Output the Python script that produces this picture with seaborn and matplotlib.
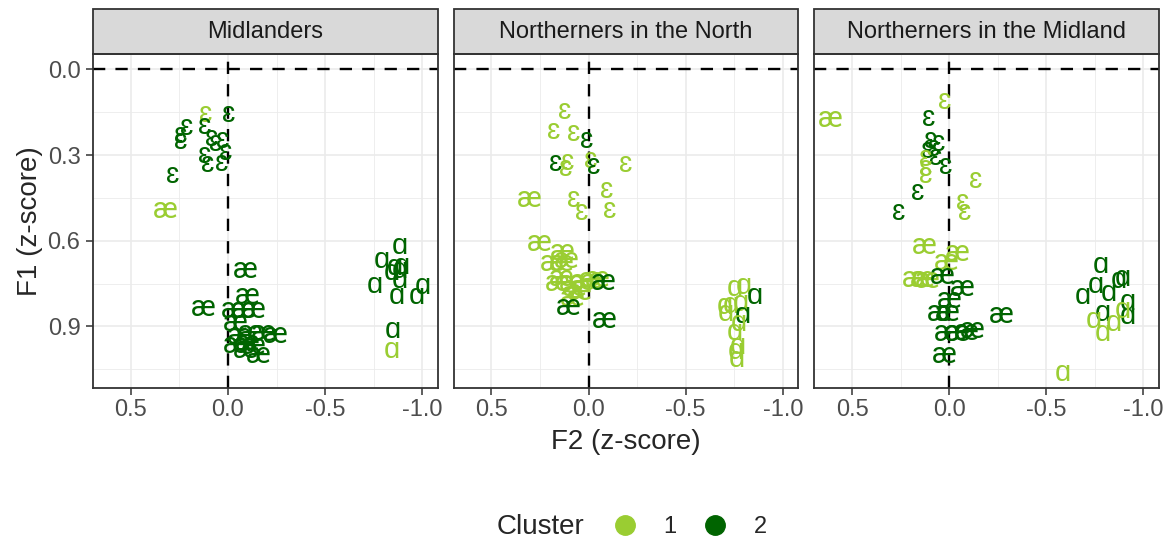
import matplotlib
matplotlib.use("Agg")
import matplotlib.pyplot as plt
from matplotlib.lines import Line2D
from matplotlib.patches import Rectangle
import pandas as pd
import seaborn as sns

# ---- data ---------------------------------------------------------------
groups = ["Midlanders", "Northerners in the North", "Northerners in the Midland"]
clusters = [1, 2]

mid_vowel = ["ɛ"] * 14 + ["æ"] * 17 + ["ɑ"] * 13
mid_cluster = [1, 2, 2, 2, 2, 2, 2, 2, 2, 2, 2, 2, 2, 2,
               1, 2, 2, 2, 2, 2, 2, 2, 2, 2, 2, 2, 2, 2, 2, 2, 2,
               2, 2, 2, 2, 2, 2, 2, 2, 2, 2, 2, 2, 1]
mid_f2 = [0.115, 0.118, -0.005, 0.214, 0.245, 0.245, 0.086, 0.063, 0.029, 0.012, 0.120, 0.103, 0.034, 0.287,
          0.321, -0.086, -0.100, 0.129, -0.026, -0.077, -0.129, -0.035, -0.112, -0.180, -0.241, -0.035, -0.086,
          -0.155, -0.129, -0.060, -0.100,
          -0.885, -0.791, -0.860, -0.885, -0.895, -0.844, -0.885, -0.756, -1.004, -0.868, -0.971, -0.851, -0.842]
mid_f1 = [0.157, 0.199, 0.157, 0.202, 0.230, 0.253, 0.242, 0.257, 0.248, 0.289, 0.300, 0.332, 0.329, 0.370,
          0.495, 0.703, 0.796, 0.837, 0.845, 0.843, 0.843, 0.889, 0.924, 0.924, 0.930, 0.965, 0.983,
          1.000, 0.971, 0.934, 0.958,
          0.621, 0.668, 0.692, 0.703, 0.689, 0.710, 0.738, 0.755, 0.761, 0.796, 0.796, 0.913, 0.983]

nn_vowel = ["ɛ"] * 14 + ["æ"] * 18 + ["ɑ"] * 13
nn_cluster = [1, 1, 1, 2, 2, 1, 1, 1, 2, 1, 1, 1, 1, 1,
              1, 1, 1, 1, 1, 1, 1, 1, 1, 1, 1, 1, 1, 2, 1, 1, 2, 2,
              1, 1, 2, 1, 1, 1, 2, 1, 1, 1, 1, 1, 1]
nn_f2 = [0.122, 0.180, 0.077, 0.009, 0.169, 0.108, 0.117, -0.012, -0.026, -0.192, -0.094, -0.111, 0.077, 0.036,
         0.306, 0.255, 0.134, 0.117, 0.186, 0.143, 0.143, 0.160, 0.091, 0.074, 0.031, -0.012, -0.046, -0.077,
         0.048, 0.082, 0.105, -0.080,
         -0.751, -0.799, -0.854, -0.699, -0.734, -0.785, -0.794, -0.708, -0.776, -0.751, -0.768, -0.759, -0.764]
nn_f1 = [0.145, 0.215, 0.224, 0.248, 0.329, 0.327, 0.347, 0.320, 0.338, 0.332, 0.423, 0.493, 0.455, 0.499,
         0.455, 0.609, 0.639, 0.668, 0.679, 0.678, 0.732, 0.749, 0.749, 0.767, 0.744, 0.738, 0.735, 0.747,
         0.779, 0.802, 0.833, 0.878,
         0.767, 0.761, 0.796, 0.829, 0.825, 0.819, 0.860, 0.854, 0.889, 0.919, 0.971, 0.989, 1.015]

nm_vowel = ["æ"] + ["ɛ"] * 16 + ["æ"] * 17 + ["ɑ"] * 14
nm_cluster = [1,
              1, 2, 2, 2, 2, 2, 2, 1, 1, 1, 2, 1, 2, 2, 1, 1,
              1, 1, 1, 1, 1, 1, 2, 2, 2, 2, 2, 2, 2, 2, 2, 2, 2,
              1, 2, 2, 2, 2, 2, 2, 2, 2, 2, 1, 1, 1, 1]
nm_f2 = [0.611,
         0.023, 0.104, 0.095, 0.053, 0.078, 0.112, 0.070, 0.121, 0.121, 0.121, 0.018, -0.137, 0.161, 0.259,
         -0.068, -0.080,
         0.130, -0.042, 0.018, 0.181, 0.138, 0.112, 0.035, -0.068, 0.001, 0.053, 0.009, -0.265, 0.018, -0.042,
         -0.085, -0.120, 0.027,
         -0.584, -0.781, -0.893, -0.874, -0.755, -0.824, -0.687, -0.919, -0.790, -0.919, -0.893, -0.746,
         -0.849, -0.790]
nm_f1 = [0.175,
         0.111, 0.172, 0.248, 0.259, 0.276, 0.283, 0.306, 0.312, 0.347, 0.370, 0.339, 0.388, 0.432, 0.499,
         0.464, 0.499,
         0.621, 0.644, 0.674, 0.735, 0.735, 0.740, 0.726, 0.767, 0.808, 0.854, 0.854, 0.860, 0.924, 0.924,
         0.919, 0.913, 1.000,
         1.064, 0.685, 0.732, 0.738, 0.755, 0.784, 0.796, 0.814, 0.854, 0.866, 0.843, 0.878, 0.889, 0.924]

x_ticks = [0.5, 0.0, -0.5, -1.0]
x_tick_labels = ["0.5", "0.0", "-0.5", "-1.0"]
y_ticks = [0.0, 0.3, 0.6, 0.9]
y_tick_labels = ["0.0", "0.3", "0.6", "0.9"]

# ---- assemble long table ------------------------------------------------
frames = []
for name, v, c, f2, f1 in [
    (groups[0], mid_vowel, mid_cluster, mid_f2, mid_f1),
    (groups[1], nn_vowel, nn_cluster, nn_f2, nn_f1),
    (groups[2], nm_vowel, nm_cluster, nm_f2, nm_f1),
]:
    frames.append(pd.DataFrame({"group": name, "vowel": v, "cluster": c, "F2": f2, "F1": f1}))
df = pd.concat(frames, ignore_index=True)

# ---- style --------------------------------------------------------------
sns.set_theme(style="white")
plt.rcParams["font.family"] = ["Liberation Sans", "DejaVu Sans"]
plt.rcParams["axes.unicode_minus"] = False

palette = dict(zip(clusters, ["#9ACD32", "#006400"]))
border = "#333333"
grid_col = "#EBEBEB"
label_size = 21
label_fonts = ["Roboto", "Liberation Sans", "DejaVu Sans"]
x_height = 0.53 * label_size  # ink centre of lowercase glyphs


def draw_vowels(data, color=None, **kws):
    ax = plt.gca()
    for v, c, x, y in zip(data["vowel"], data["cluster"], data["F2"], data["F1"]):
        ax.annotate(v, (x, y), xytext=(0, -x_height / 2), textcoords="offset points",
                    ha="center", va="baseline", color=palette[c], fontsize=label_size,
                    family=label_fonts, zorder=4)


g = sns.FacetGrid(df, col="group", col_order=groups, sharex=True, sharey=True,
                  despine=False, height=4, aspect=1)
g.map_dataframe(draw_vowels)
g.set_titles("")
g.set_axis_labels("", "")
g.set(xlim=(0.695, -1.08), ylim=(1.117, -0.054))

fig = g.figure
fig.set_size_inches(11.68, 5.45)
fig.set_dpi(100)
fig.subplots_adjust(left=93 / 1168, right=1159 / 1168,
                    bottom=1 - 388.3 / 545, top=1 - 54 / 545, wspace=0.046)

strip_h = 45 / 334.3
for i, (ax, name) in enumerate(zip(g.axes.flat, groups)):
    ax.set_facecolor("white")
    ax.set_xticks(x_ticks)
    ax.set_xticklabels(x_tick_labels)
    ax.set_xticks([0.25, -0.25, -0.75], minor=True)
    ax.set_yticks(y_ticks)
    ax.set_yticks([0.15, 0.45, 0.75, 1.05], minor=True)
    if i == 0:
        ax.set_yticklabels(y_tick_labels)
        ax.tick_params(axis="y", which="major", length=5, width=1.1, color=border,
                       labelsize=17, labelcolor="#4D4D4D", pad=4, left=True)
    else:
        ax.tick_params(axis="y", which="both", length=0, labelleft=False)
    ax.tick_params(axis="x", which="major", length=5, width=1.1, color=border,
                   labelsize=17, labelcolor="#4D4D4D", pad=3, bottom=True)
    ax.tick_params(which="minor", length=0)
    ax.grid(True, which="major", color=grid_col, linewidth=1.2, zorder=0)
    ax.grid(True, which="minor", color=grid_col, linewidth=0.6, zorder=0)
    ax.set_axisbelow(True)
    for sp in ax.spines.values():
        sp.set_color(border)
        sp.set_linewidth(1.3)
        sp.set_zorder(5)
    ax.axhline(0, color="black", linewidth=1.7, linestyle=(0, (5.2, 4.3)), zorder=2)
    ax.axvline(0, color="black", linewidth=1.7, linestyle=(0, (5.2, 4.3)), zorder=2)
    ax.add_patch(Rectangle((0, 1), 1, strip_h, transform=ax.transAxes, clip_on=False,
                           facecolor="#D9D9D9", edgecolor=border, linewidth=1.3, zorder=5))
    ax.text(0.5, 1 + strip_h / 2, name, transform=ax.transAxes, ha="center", va="center",
            fontsize=17, color="#1A1A1A", zorder=6)

fig.text(626 / 1168, 1 - 442 / 545, "F2 (z-score)", ha="center", va="center", fontsize=20)
fig.text(30 / 1168, 1 - 221 / 545, "F1 (z-score)", ha="center", va="center",
         rotation=90, fontsize=20)

# legend
fig.text(541 / 1168, 1 - 527 / 545, "Cluster", ha="center", va="center", fontsize=20)
handles = [Line2D([], [], marker="o", linestyle="", markersize=14, color=palette[c]) for c in clusters]
fig.legend(handles, [str(c) for c in clusters], loc="center", ncol=2, frameon=False,
           bbox_to_anchor=(690 / 1168, 1 - 527 / 545), fontsize=17, handlelength=1.0,
           handletextpad=1.13, columnspacing=1.13, borderpad=0)

fig.savefig("out.png", dpi=100, facecolor="white")
